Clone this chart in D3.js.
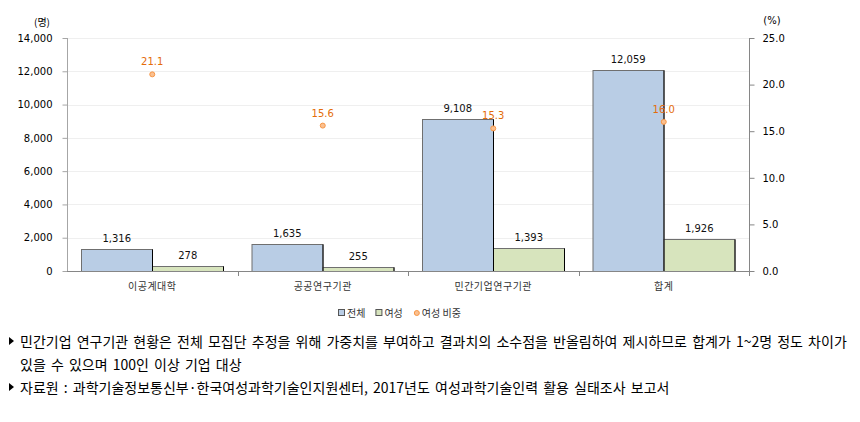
<!DOCTYPE html>
<html><head><meta charset="utf-8">
<script src="https://cdn.jsdelivr.net/npm/d3@7"></script>
<style>
body{margin:0;background:#fff;}
svg{display:block;}
</style></head>
<body>
<script>
const categories = ["이공계대학","공공연구기관","민간기업연구기관","합계"];
const seriesNames = ["전체","여성"];
const totalValues = [1316,1635,9108,12059];
const womenValues = [278,255,1393,1926];
const womenRatio = [21.1,15.6,15.3,16.0];
const leftTicks = [0,2000,4000,6000,8000,10000,12000,14000];
const rightTicks = [0,5,10,15,20,25];
const legendLabels = ["전체","여성","여성 비중"];
const notes = [
  {bullet:true, text:"민간기업 연구기관 현황은 전체 모집단 추정을 위해 가중치를 부여하고 결과치의 소수점을 반올림하여 제시하므로 합계가 1~2명 정도 차이가"},
  {bullet:false, text:"있을 수 있으며 100인 이상 기업 대상"},
  {bullet:true, text:"자료원 : 과학기술정보통신부·한국여성과학기술인지원센터, 2017년도 여성과학기술인력 활용 실태조사 보고서"}
];

const W=860,H=422;
const svg=d3.select("body").append("svg").attr("width",W).attr("height",H);
const L=67,R=749,T=38,B=271;
const numFont="'DejaVu Sans', Verdana, sans-serif";
const krFont="'Noto Sans CJK KR','Noto Sans',sans-serif";

const y=d3.scaleLinear().domain([0,14000]).range([B,T]);
const y2=d3.scaleLinear().domain([0,25]).range([B,T]);
const x0=d3.scaleBand().domain(categories).range([L,R]).paddingInner(0).paddingOuter(0);
const x1=d3.scaleBand().domain(seriesNames).range([0,x0.bandwidth()]).paddingInner(0).paddingOuter(0.2);

// gridlines
svg.append("g").selectAll("line").data(leftTicks.filter(d=>d>0)).join("line")
  .attr("x1",L).attr("x2",R).attr("y1",d=>Math.round(y(d))+0.5).attr("y2",d=>Math.round(y(d))+0.5)
  .attr("stroke","#efefef").attr("stroke-width",1);

// left axis
const gl=svg.append("g").attr("transform",`translate(${L+0.5},0)`)
  .call(d3.axisLeft(y).tickValues(leftTicks).tickFormat(d3.format(",")).tickSize(5).tickPadding(10));
gl.select(".domain").attr("stroke","#a6a6a6").attr("d",`M0,${T}V${B}`);
gl.selectAll(".tick line").attr("stroke","#a6a6a6");
gl.selectAll("text").attr("font-family",numFont).attr("font-size",10).attr("fill","#000");

// right axis
const gr=svg.append("g").attr("transform",`translate(${R+0.5},0)`)
  .call(d3.axisRight(y2).tickValues(rightTicks).tickFormat(d3.format(".1f")).tickSize(5).tickPadding(8));
gr.select(".domain").attr("stroke","#868686").attr("d",`M0,${T}V${B}`);
gr.selectAll(".tick line").attr("stroke","#868686");
gr.selectAll("text").attr("font-family",numFont).attr("font-size",10).attr("fill","#000");

// bars
const groups=svg.append("g").selectAll("g").data(categories).join("g")
  .attr("transform",d=>`translate(${x0(d)},0)`);
const barData=(c,i)=>[{s:"전체",v:totalValues[i]},{s:"여성",v:womenValues[i]}];
const colors={"전체":"#b9cde5","여성":"#d7e4bd"};
groups.each(function(c,i){
  const g=d3.select(this);
  const data=barData(c,i);
  g.selectAll("rect").data(data).join("rect")
    .attr("x",d=>Math.round(x1(d.s))+0.5).attr("y",d=>Math.round(y(d.v))+0.5)
    .attr("width",d=>Math.round(x1.bandwidth()))
    .attr("height",d=>Math.round(B-y(d.v)))
    .attr("fill",d=>colors[d.s]).attr("stroke","#6f6f6f").attr("stroke-width",1);
  g.selectAll("line.edge").data(data).join("line").attr("class","edge")
    .attr("x1",d=>Math.round(x1(d.s))+Math.round(x1.bandwidth())+0.5)
    .attr("x2",d=>Math.round(x1(d.s))+Math.round(x1.bandwidth())+0.5)
    .attr("y1",d=>Math.round(y(d.v))+0.5).attr("y2",B)
    .attr("stroke","#000").attr("stroke-width",1);
  g.selectAll("text.val").data(data).join("text").attr("class","val")
    .attr("x",d=>x1(d.s)+x1.bandwidth()/2).attr("y",d=>y(d.v)-7)
    .attr("text-anchor","middle").attr("font-family",numFont).attr("font-size",10).attr("fill","#111")
    .text(d=>d3.format(",")(d.v));
});

// bottom axis
const gb=svg.append("g").attr("transform",`translate(0,${B+0.5})`)
  .call(d3.axisBottom(x0).tickSize(0).tickPadding(11));
gb.select(".domain").attr("stroke","#868686").attr("d",`M${L},0H${R}`);
gb.selectAll("text").attr("font-family",krFont).attr("font-size",10).attr("fill","#333").attr("letter-spacing","0.5px");
svg.append("g").selectAll("line").data(categories.slice(1).concat(["__end"])).join("line")
  .attr("x1",(d,i)=>Math.round(L+x0.step()*(i+1))+0.5).attr("x2",(d,i)=>Math.round(L+x0.step()*(i+1))+0.5)
  .attr("y1",B).attr("y2",B+5).attr("stroke","#868686");

// ratio points
const pts=svg.append("g");
pts.selectAll("circle").data(womenRatio).join("circle")
  .attr("cx",(d,i)=>x0(categories[i])+x0.bandwidth()/2).attr("cy",d=>y2(d)).attr("r",2.5)
  .attr("fill","#fac090").attr("stroke","#f79646").attr("stroke-width",1);
pts.selectAll("text").data(womenRatio).join("text")
  .attr("x",(d,i)=>x0(categories[i])+x0.bandwidth()/2).attr("y",d=>y2(d)-9)
  .attr("text-anchor","middle").attr("font-family",numFont).attr("font-size",10).attr("fill","#e46c0a")
  .text(d=>d3.format(".1f")(d));

// unit labels
svg.append("text").attr("x",42).attr("y",26).attr("text-anchor","middle").attr("font-family",krFont).attr("font-size",10).attr("fill","#000").text("(명)");
svg.append("text").attr("x",772).attr("y",24).attr("text-anchor","middle").attr("font-family",numFont).attr("font-size",10).attr("fill","#000").text("(%)");

// legend
const lg=svg.append("g").attr("transform","translate(338,313)");
let lx=0;
legendLabels.forEach((lab,i)=>{
  if(i<2){
    lg.append("rect").attr("x",lx+0.5).attr("y",-3.5).attr("width",6).attr("height",6)
      .attr("fill",colors[seriesNames[i]]).attr("stroke","#555");
  } else {
    lg.append("circle").attr("cx",lx+4).attr("cy",0).attr("r",2.5).attr("fill","#fac090").attr("stroke","#f79646");
  }
  const t=lg.append("text").attr("x",lx+9).attr("y",3.5).attr("font-family",krFont).attr("font-size",10).attr("fill","#333").text(lab);
  lx+=9+t.node().getComputedTextLength()+10;
});

// notes
const ny=[347,370,393];
notes.forEach((n,i)=>{
  if(n.bullet){
    svg.append("path").attr("d",`M9,${ny[i]-10}L14,${ny[i]-6}L9,${ny[i]-2}Z`).attr("fill","#000");
  }
  svg.append("text").attr("x",20).attr("y",ny[i]).attr("font-family",krFont).attr("font-size",14)
    .attr("word-spacing","2px").attr("fill","#000").text(n.text);
});
</script>
</body></html>
